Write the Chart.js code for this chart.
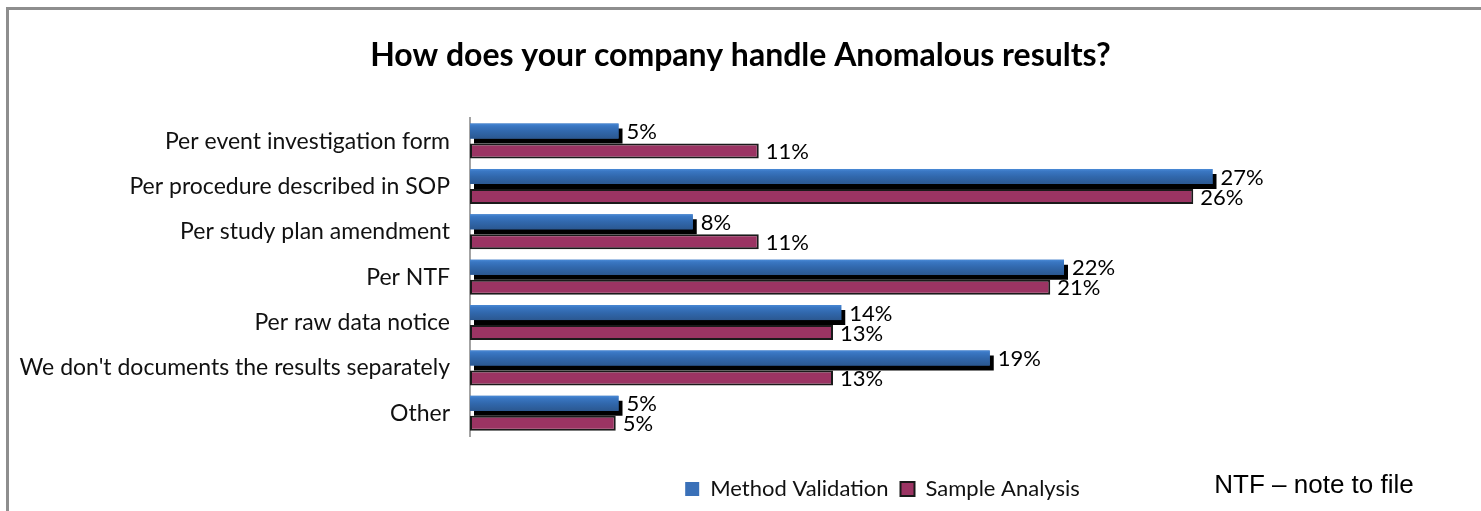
<!DOCTYPE html>
<html>
<head>
<meta charset="utf-8">
<script src="https://cdn.jsdelivr.net/npm/chart.js@4.4.1/dist/chart.umd.min.js"></script>
<style>
  html, body { margin: 0; padding: 0; background: #fff; overflow: hidden; }
  #wrap { width: 1481px; height: 511px; position: relative; }
</style>
</head>
<body>
<div id="wrap"><canvas id="c" width="1481" height="511"></canvas></div>
<script>
const titleText = "How does your company handle Anomalous results?";
const noteText = "NTF \u2013 note to file";
const categories = [
  "Per event investigation form",
  "Per procedure described in SOP",
  "Per study plan amendment",
  "Per NTF",
  "Per raw data notice",
  "We don't documents the results separately",
  "Other"
];
const seriesNames = ["Method Validation", "Sample Analysis"];
const methodValidation = [5.4, 27.0, 8.1, 21.6, 13.5, 18.9, 5.4];
const sampleAnalysis = [10.5, 26.3, 10.5, 21.1, 13.2, 13.2, 5.3];
const axisMax = 30;

const FONT = "Lato";

const framePlugin = {
  id: 'frame',
  beforeDraw(chart) {
    const ctx = chart.ctx;
    ctx.save();
    ctx.fillStyle = '#fff';
    ctx.fillRect(0, 0, chart.width, chart.height);
    ctx.strokeStyle = '#8e8e8e';
    ctx.lineWidth = 3;
    ctx.strokeRect(7.5, 8.5, 3000, 3000);
    ctx.restore();
  },
  beforeDatasetDraw(chart, args) {
    if (args.index === 0) {
      const ctx = chart.ctx;
      ctx.save();
      ctx.shadowColor = '#000';
      ctx.shadowOffsetX = 4;
      ctx.shadowOffsetY = 5;
      ctx.shadowBlur = 0;
    }
  },
  afterDatasetDraw(chart, args) {
    if (args.index === 0) {
      const ctx = chart.ctx;
      ctx.restore();
      ctx.save();
      args.meta.data.forEach(el => {
        const p = el.getProps(['x', 'y', 'base', 'height'], true);
        const top = p.y - p.height / 2;
        const g = ctx.createLinearGradient(0, top, 0, top + p.height);
        g.addColorStop(0, '#4a8ad6');
        g.addColorStop(0.15, '#3a77c3');
        g.addColorStop(0.5, '#3168ad');
        g.addColorStop(1, '#2b5891');
        ctx.fillStyle = g;
        ctx.fillRect(p.base, top, p.x - p.base, p.height);
      });
      ctx.restore();
    }
  },
  afterDatasetsDraw(chart) {
    const ctx = chart.ctx;
    ctx.save();
    ctx.font = '22px ' + FONT;
    ctx.fillStyle = '#000';
    ctx.textAlign = 'left';
    ctx.textBaseline = 'middle';
    chart.data.datasets.forEach((ds, di) => {
      const meta = chart.getDatasetMeta(di);
      meta.data.forEach((el, i) => {
        const p = el.getProps(['x', 'y'], true);
        ctx.fillText(Math.round(ds.data[i]) + '%', p.x + (di === 0 ? 8 : 7), p.y + 1);
      });
    });
    ctx.restore();
  },
  afterDraw(chart) {
    const ctx = chart.ctx;
    ctx.save();
    ctx.font = '26px "Liberation Sans"';
    ctx.fillStyle = '#000';
    ctx.textAlign = 'center';
    ctx.textBaseline = 'middle';
    ctx.fillText(noteText, 1314, 486);
    ctx.restore();
  }
};

new Chart(document.getElementById('c'), {
  type: 'bar',
  data: {
    labels: categories,
    datasets: [
      {
        label: seriesNames[0],
        data: methodValidation,
        backgroundColor: '#3a70b8',
        borderWidth: 0,
        categoryPercentage: 0.88,
        barPercentage: 0.75
      },
      {
        label: seriesNames[1],
        data: sampleAnalysis,
        backgroundColor: '#9b3463',
        borderColor: '#1a1a1a',
        borderWidth: 2,
        borderSkipped: false,
        categoryPercentage: 0.88,
        barPercentage: 0.75
      }
    ]
  },
  options: {
    indexAxis: 'y',
    responsive: false,
    animation: false,
    devicePixelRatio: 1,
    layout: { padding: { left: 0, right: 0, top: 0, bottom: 1 } },
    scales: {
      x: {
        type: 'linear',
        min: 0,
        max: axisMax,
        display: true,
        grid: { display: false, drawTicks: false },
        border: { display: false },
        ticks: { display: false },
        afterFit(s) { s.height = 30; }
      },
      y: {
        type: 'category',
        position: 'left',
        grid: { display: false, drawTicks: false },
        border: { display: true, color: '#a3a3a3', width: 2 },
        ticks: { color: '#111', padding: 20, font: { family: FONT, size: 23 } },
        afterFit(s) { s.width = 470; }
      },
      yRight: {
        type: 'linear',
        position: 'right',
        display: true,
        grid: { display: false, drawTicks: false },
        border: { display: false },
        ticks: { display: false },
        afterFit(s) { s.width = 186; }
      }
    },
    plugins: {
      title: {
        display: true,
        text: titleText,
        color: '#000',
        font: { family: FONT, size: 32, weight: 'bold', lineHeight: 1.2 },
        padding: { top: 36, bottom: 44 }
      },
      legend: {
        display: true,
        position: 'bottom',
        fullSize: false,
        labels: {
          color: '#111',
          boxWidth: 14,
          boxHeight: 14,
          padding: 12,
          font: { family: FONT, size: 22 }
        }
      },
      tooltip: { enabled: false }
    }
  },
  plugins: [framePlugin]
});
</script>
</body>
</html>
